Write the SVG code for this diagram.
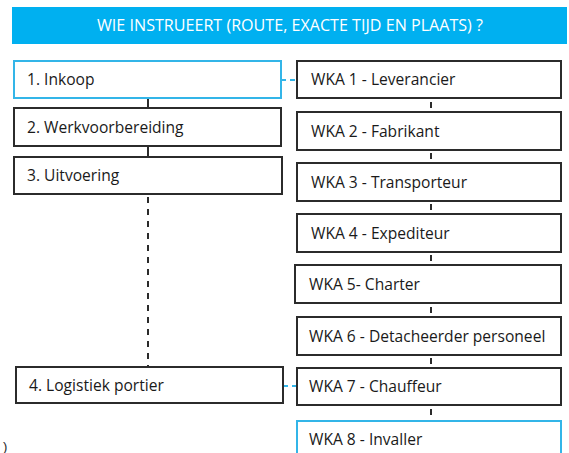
<svg xmlns="http://www.w3.org/2000/svg" width="569" height="453" viewBox="0 0 569 453">
<style>
.box{fill:#fff;stroke:#2b2b2b;stroke-width:2}
.blue{fill:#fff;stroke:#33b5e8;stroke-width:2}
.t{font-family:"Open Sans","Liberation Sans",sans-serif;font-size:15.6px;fill:#1a1a1a}
.tick{stroke:#2b2b2b;stroke-width:2}
.dash{stroke:#2b2b2b;stroke-width:2;stroke-dasharray:6,6}
.bdash{stroke:#33b5e8;stroke-width:2;stroke-dasharray:5,4}
</style>
<rect width="569" height="453" fill="#fff"/>
<g id="header">
<rect x="12" y="7" width="555" height="37" fill="#00b0f0"/>
<text x="290" y="31" text-anchor="middle" font-family="Open Sans, Liberation Sans, sans-serif" font-size="15.5" fill="#fff" textLength="386" lengthAdjust="spacingAndGlyphs">WIE INSTRUEERT (ROUTE, EXACTE TIJD EN PLAATS) ?</text>
</g>
<g id="connectors">
<line class="tick" x1="148" y1="98" x2="148" y2="108"/>
<line class="tick" x1="148" y1="146" x2="148" y2="157"/>
<line class="dash" x1="148" y1="197" x2="148" y2="367"/>
<line class="bdash" x1="281" y1="80" x2="297" y2="80"/>
<line class="bdash" x1="283" y1="386" x2="297" y2="386"/>
<line class="tick" x1="431" y1="102" x2="431" y2="108"/>
<line class="tick" x1="431" y1="153" x2="431" y2="159"/>
<line class="tick" x1="431" y1="204" x2="431" y2="210"/>
<line class="tick" x1="431" y1="255" x2="431" y2="261"/>
<line class="tick" x1="431" y1="307" x2="431" y2="313"/>
<line class="tick" x1="431" y1="358" x2="431" y2="364"/>
<line class="tick" x1="431" y1="409" x2="431" y2="415"/>
</g>
<g id="n1"><rect class="blue" x="14" y="61" width="267" height="37"/><text class="t" x="27" y="85">1. Inkoop</text></g>
<g id="n2"><rect class="box" x="14" y="108" width="267" height="38"/><text class="t" x="27" y="133">2. Werkvoorbereiding</text></g>
<g id="n3"><rect class="box" x="14" y="157" width="268" height="37"/><text class="t" x="27" y="181">3. Uitvoering</text></g>
<g id="n4"><rect class="box" x="16" y="367" width="267" height="36"/><text class="t" x="29" y="391">4. Logistiek portier</text></g>
<g id="w1"><rect class="box" x="297" y="61" width="264" height="37"/><text class="t" x="311" y="85">WKA 1 - Leverancier</text></g>
<g id="w2"><rect class="box" x="297" y="112" width="264" height="38"/><text class="t" x="311" y="137">WKA 2 - Fabrikant</text></g>
<g id="w3"><rect class="box" x="297" y="163" width="264" height="38"/><text class="t" x="311" y="188">WKA 3 - Transporteur</text></g>
<g id="w4"><rect class="box" x="297" y="214" width="264" height="38"/><text class="t" x="311" y="239">WKA 4 - Expediteur</text></g>
<g id="w5"><rect class="box" x="295" y="265" width="266" height="38"/><text class="t" x="309" y="290">WKA 5- Charter</text></g>
<g id="w6"><rect class="box" x="297" y="317" width="264" height="38"/><text class="t" x="309" y="342">WKA 6 - Detacheerder personeel</text></g>
<g id="w7"><rect class="box" x="297" y="368" width="264" height="37"/><text class="t" x="309" y="392">WKA 7 - Chauffeur</text></g>
<g id="w8"><rect class="blue" x="297" y="421" width="264" height="40"/><text class="t" x="309" y="445">WKA 8 - Invaller</text></g>
<text x="3" y="451" font-family="Liberation Sans, sans-serif" font-size="13" fill="#1e1e1e">)</text>
</svg>
